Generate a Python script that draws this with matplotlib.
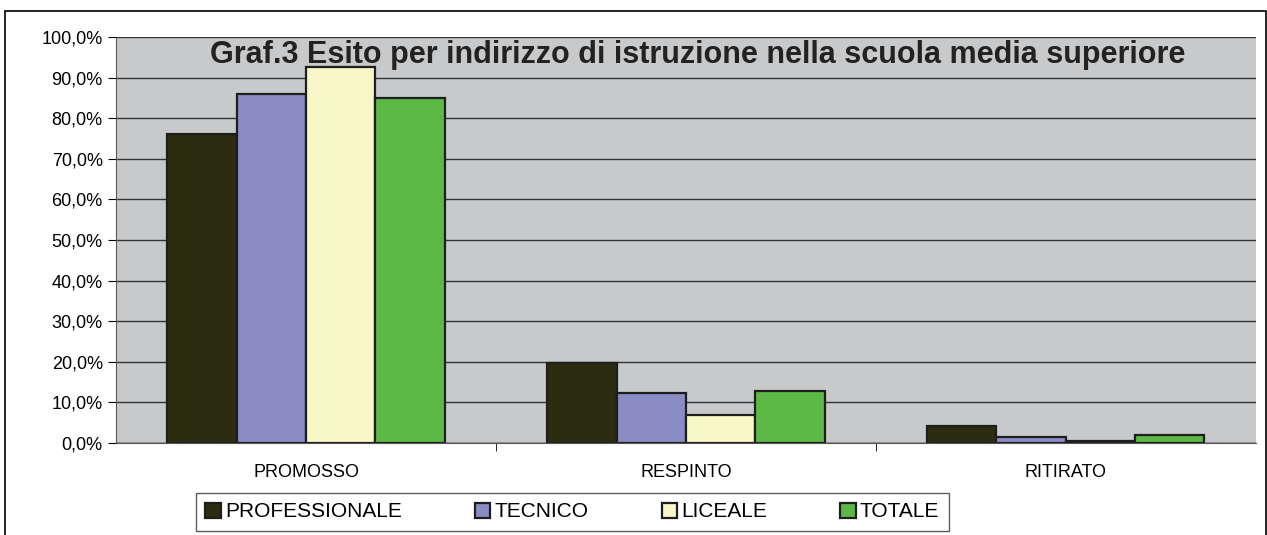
import matplotlib.pyplot as plt
import numpy as np
from matplotlib.patches import Rectangle

plt.rcParams['font.family'] = ['Liberation Sans', 'DejaVu Sans']

categories = ['PROMOSSO', 'RESPINTO', 'RITIRATO']
series = ['PROFESSIONALE', 'TECNICO', 'LICEALE', 'TOTALE']
professionale = [76.0, 19.7, 4.2]
tecnico = [86.0, 12.4, 1.5]
liceale = [92.6, 6.8, 0.5]
totale = [85.0, 12.9, 2.0]
colors = ['#2c2c10', '#8a8dc4', '#f8f7c8', '#5cb946']

fig = plt.figure(figsize=(12.67, 5.35), dpi=100)
ax = fig.add_axes([0.0916, 0.172, 0.8995, 0.759])
ax.set_facecolor('#c8c9cb')

x = np.arange(len(categories))
w = 0.1825
for i, (vals, c) in enumerate(zip([professionale, tecnico, liceale, totale], colors)):
    ax.bar(x + (i - 1.5) * w, vals, w, color=c, edgecolor='#1e1e1e',
           linewidth=1.6, label=series[i], zorder=3)

ax.set_ylim(0, 100)
ax.set_xlim(-0.5, 2.5)
ticks = np.arange(0, 101, 10)
ax.set_yticks(ticks)
ax.set_yticklabels([('%.1f%%' % v).replace('.', ',') for v in ticks], fontsize=13)
ax.yaxis.set_tick_params(length=6, direction='out')
ax.grid(axis='y', color='#333333', linewidth=1, zorder=0)
ax.set_xticks(x)
ax.set_xticklabels(categories, fontsize=13)
ax.tick_params(axis='x', length=0, pad=15)
ax.set_xticks([0.5, 1.5], minor=True)
ax.tick_params(axis='x', which='minor', length=6)
ax.axhline(0, color='#333333', linewidth=1, zorder=4)
for s in ['top', 'right']:
    ax.spines[s].set_visible(False)
ax.spines['left'].set_color('#555555')
ax.spines['bottom'].set_color('#555555')

ax.text(0.51, 0.955, 'Graf.3 Esito per indirizzo di istruzione nella scuola media superiore',
        transform=ax.transAxes, ha='center', va='center', fontsize=22,
        fontweight='bold', color='#222222', zorder=5)

leg = fig.legend(loc='center', bbox_to_anchor=(0.4517, 0.043), ncol=4,
                 fontsize=15, frameon=True, fancybox=False, edgecolor='#333333',
                 handlelength=0.75, handleheight=0.75, handletextpad=0.2,
                 columnspacing=3.5, borderpad=0.45, borderaxespad=0)
leg.get_frame().set_linewidth(1)

fig.patches.append(Rectangle((0.004, -0.01), 0.995, 0.99, transform=fig.transFigure,
                             fill=False, edgecolor='black', linewidth=1.2))

fig.savefig('out.png', dpi=100)
